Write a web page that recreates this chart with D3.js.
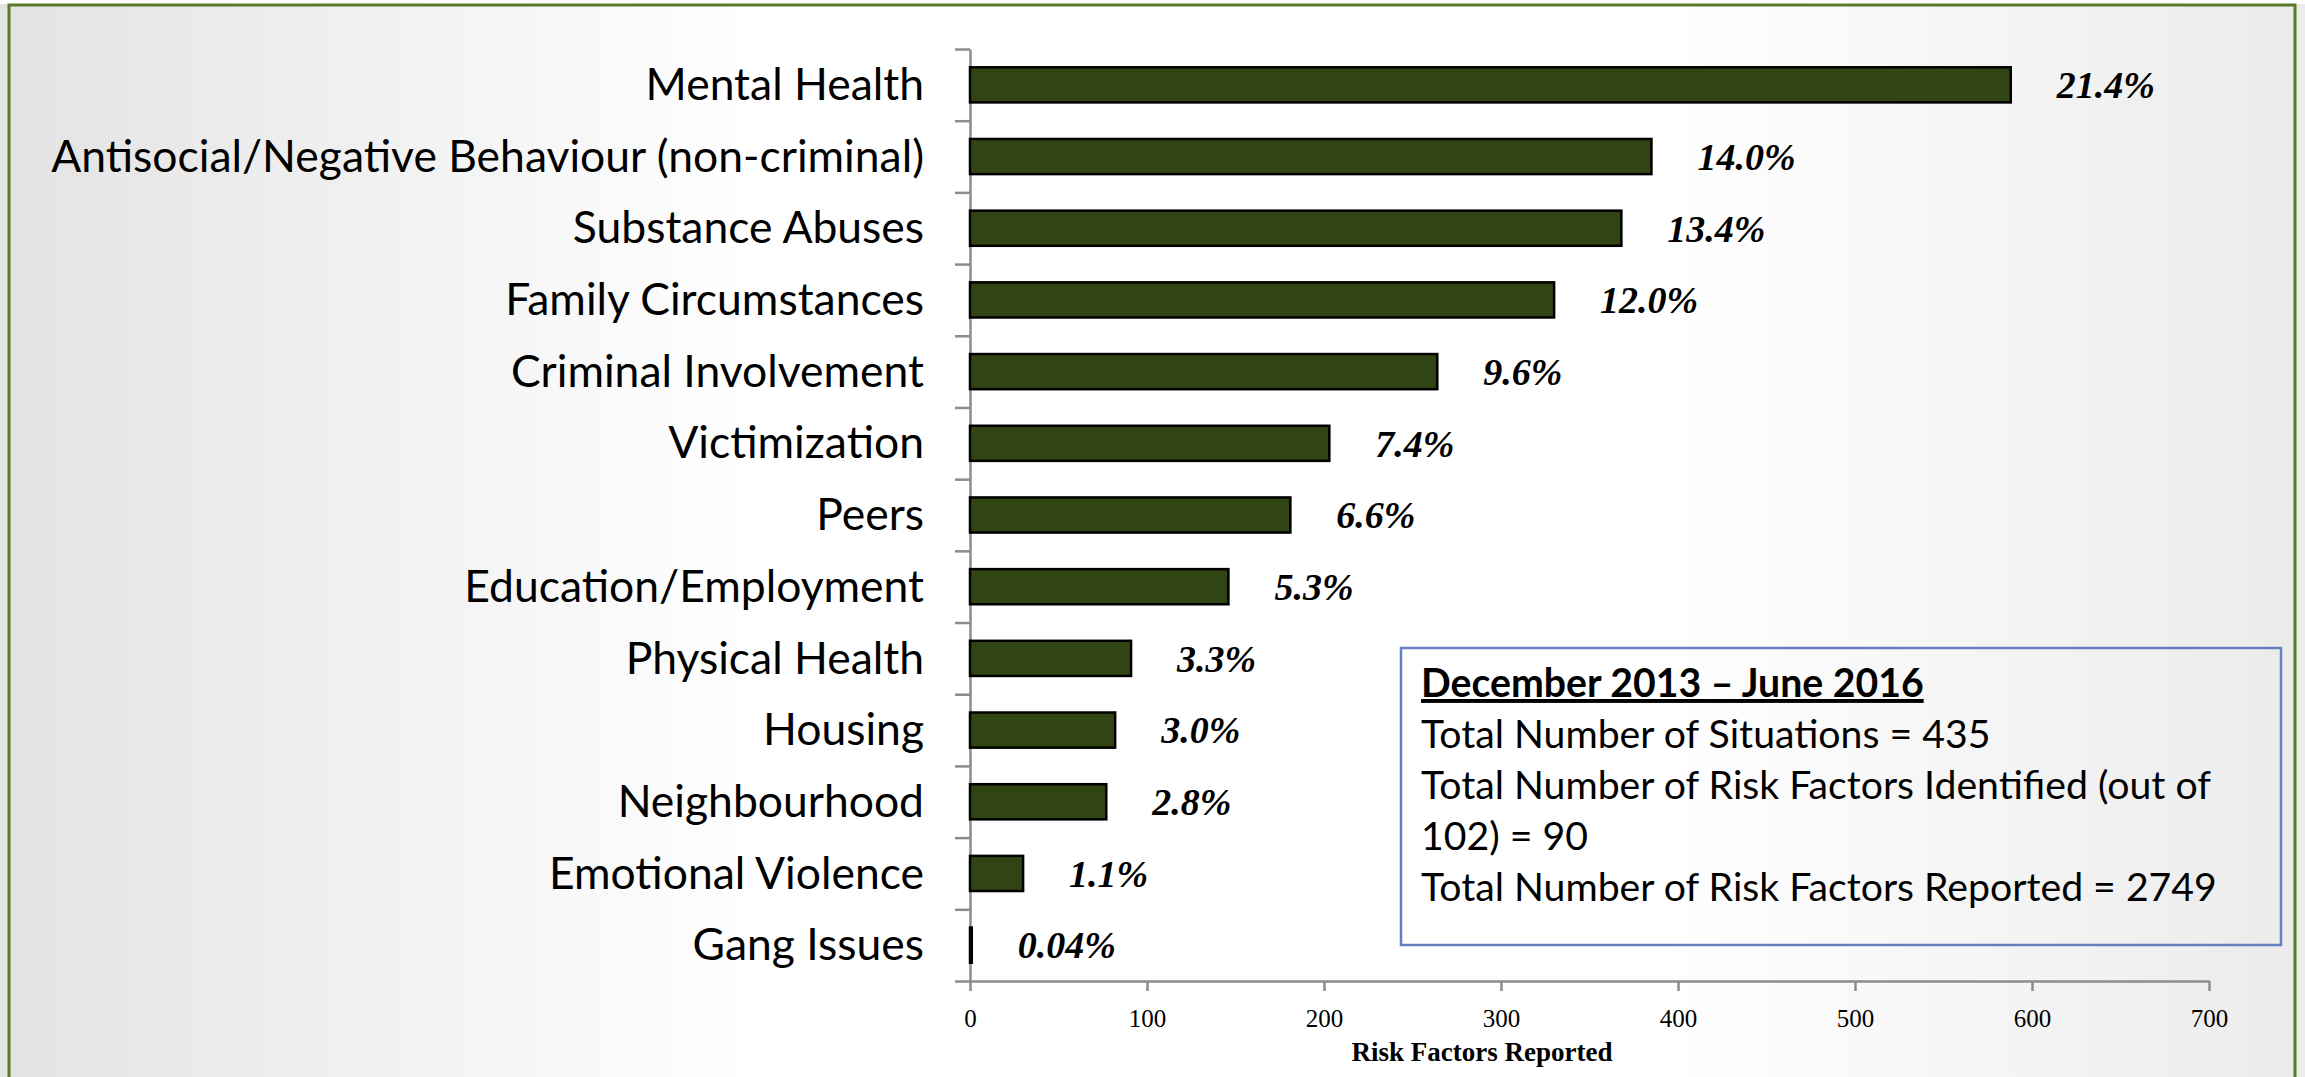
<!DOCTYPE html>
<html>
<head>
<meta charset="utf-8">
<script src="https://cdn.jsdelivr.net/npm/d3@7"></script>
<style>
  html, body { margin: 0; padding: 0; background: #fff; overflow: hidden; }
  svg { display: block; }
</style>
</head>
<body>
<div id="chart"></div>
<script>
// Risk factors bar chart — horizontal bars with percent labels and a summary box.

const categories = [
    'Mental Health',
    'Antisocial/Negative Behaviour (non-criminal)',
    'Substance Abuses',
    'Family Circumstances',
    'Criminal Involvement',
    'Victimization',
    'Peers',
    'Education/Employment',
    'Physical Health',
    'Housing',
    'Neighbourhood',
    'Emotional Violence',
    'Gang Issues'
];
const counts = [588, 385, 368, 330, 264, 203, 181, 146, 91, 82, 77, 30, 1];
const percentLabels = ['21.4%', '14.0%', '13.4%', '12.0%', '9.6%', '7.4%', '6.6%', '5.3%', '3.3%', '3.0%', '2.8%', '1.1%', '0.04%'];
const xTicks = [0, 100, 200, 300, 400, 500, 600, 700];
const axisTitle = 'Risk Factors Reported';
const boxTitle = 'December 2013 \u2013 June 2016';
const boxLines = [
    'Total Number of Situations = 435',
    'Total Number of Risk Factors Identified (out of',
    '102) = 90',
    'Total Number of Risk Factors Reported = 2749'
];

const width = 2305, height = 1077;
const plot = { left: 970, right: 2209, top: 49, bottom: 981 };
const axisColor = '#8c8c8c';
const sansFont = 'Lato, "Open Sans", sans-serif';
const serifFont = '"Liberation Serif", "DejaVu Serif", serif';

const svg = d3.select('#chart').append('svg')
    .attr('width', width)
    .attr('height', height);

// Slide background + frame
const defs = svg.append('defs');
const grad = defs.append('linearGradient').attr('id', 'bg').attr('x1', 0).attr('x2', 1).attr('y1', 0).attr('y2', 0);
grad.append('stop').attr('offset', '0%').attr('stop-color', '#e3e3e3');
grad.append('stop').attr('offset', '33%').attr('stop-color', '#ffffff');
grad.append('stop').attr('offset', '72%').attr('stop-color', '#ffffff');
grad.append('stop').attr('offset', '100%').attr('stop-color', '#ebebeb');

svg.append('rect').attr('width', width).attr('height', height).attr('fill', 'url(#bg)');
svg.append('rect').attr('x', 0).attr('y', 0).attr('width', width).attr('height', 4).attr('fill', '#ffffff');
svg.append('rect')
    .attr('x', 9).attr('y', 5)
    .attr('width', 2286).attr('height', height + 20)
    .attr('fill', 'none')
    .attr('stroke', '#5b7a26')
    .attr('stroke-width', 3);

// Scales
const x = d3.scaleLinear().domain([0, 700]).range([plot.left, plot.right]);
const y = d3.scaleBand().domain(categories).range([plot.top, plot.bottom])
    .paddingInner(0.51).paddingOuter(0.255);
const yEdge = d3.scaleLinear().domain([0, categories.length]).range([plot.top, plot.bottom]);

// Y axis: boundary ticks
const yAxisG = svg.append('g')
    .attr('transform', `translate(${plot.left},0)`)
    .call(d3.axisLeft(yEdge).ticks(categories.length).tickSize(15).tickSizeOuter(0).tickFormat(''));
yAxisG.selectAll('path, line').attr('stroke', axisColor).attr('stroke-width', 2.5);

// Y axis: category labels
const labelG = svg.append('g')
    .attr('transform', `translate(${plot.left},0)`)
    .call(d3.axisLeft(y).tickSize(0).tickPadding(46));
labelG.select('.domain').remove();
labelG.selectAll('text')
    .attr('font-family', sansFont)
    .attr('font-size', 100)
    .attr('fill', '#000');
const maxLabel = d3.max(labelG.selectAll('text').nodes(), n => n.getComputedTextLength());
labelG.selectAll('text').attr('font-size', 100 * 873 / maxLabel).attr('dy', '0.34em');

// X axis
const xAxisG = svg.append('g')
    .attr('transform', `translate(0,${plot.bottom})`)
    .call(d3.axisBottom(x).tickValues(xTicks).tickSize(10).tickSizeOuter(0).tickPadding(18));
xAxisG.selectAll('path, line').attr('stroke', axisColor).attr('stroke-width', 2.5);
xAxisG.selectAll('text')
    .attr('font-family', serifFont)
    .attr('font-size', 25)
    .attr('fill', '#000');

svg.append('text')
    .attr('x', 1482)
    .attr('y', 1061)
    .attr('text-anchor', 'middle')
    .attr('font-family', serifFont)
    .attr('font-weight', 'bold')
    .attr('font-size', 27)
    .text(axisTitle);

// Bars
const rows = categories.map((c, i) => ({ cat: c, value: counts[i], label: percentLabels[i] }));

svg.append('g').selectAll('rect').data(rows).join('rect')
    .attr('x', x(0))
    .attr('y', d => y(d.cat))
    .attr('width', d => x(d.value) - x(0))
    .attr('height', y.bandwidth())
    .attr('fill', '#314512')
    .attr('stroke', '#000')
    .attr('stroke-width', 2.5);

svg.append('g').selectAll('text').data(rows).join('text')
    .attr('x', d => x(d.value) + 46)
    .attr('y', d => y(d.cat) + y.bandwidth() / 2)
    .attr('dy', '0.35em')
    .attr('font-family', serifFont)
    .attr('font-weight', 'bold')
    .attr('font-style', 'italic')
    .attr('font-size', 38)
    .attr('fill', '#000')
    .text(d => d.label);

// Summary box
const box = { x: 1401, y: 648, w: 880, h: 297 };
svg.append('rect')
    .attr('x', box.x).attr('y', box.y)
    .attr('width', box.w).attr('height', box.h)
    .attr('fill', 'none')
    .attr('stroke', '#6580c0')
    .attr('stroke-width', 2.5);

const boxText = svg.append('g').attr('font-family', sansFont).attr('fill', '#000');
const lineYs = [697, 748, 799, 850, 901];
const titleEl = boxText.append('text')
    .attr('x', box.x + 20)
    .attr('y', lineYs[0])
    .attr('font-weight', 'bold')
    .attr('text-decoration', 'underline')
    .text(boxTitle);
const bodyEls = boxText.selectAll('text.line').data(boxLines).join('text')
    .attr('class', 'line')
    .attr('x', box.x + 20)
    .attr('y', (d, i) => lineYs[i + 1])
    .attr('font-size', 100)
    .text(d => d);
const maxLine = d3.max(bodyEls.nodes(), n => n.getComputedTextLength());
const boxSize = 100 * 796 / maxLine;
bodyEls.attr('font-size', boxSize);
titleEl.attr('font-size', boxSize);
</script>
</body>
</html>
